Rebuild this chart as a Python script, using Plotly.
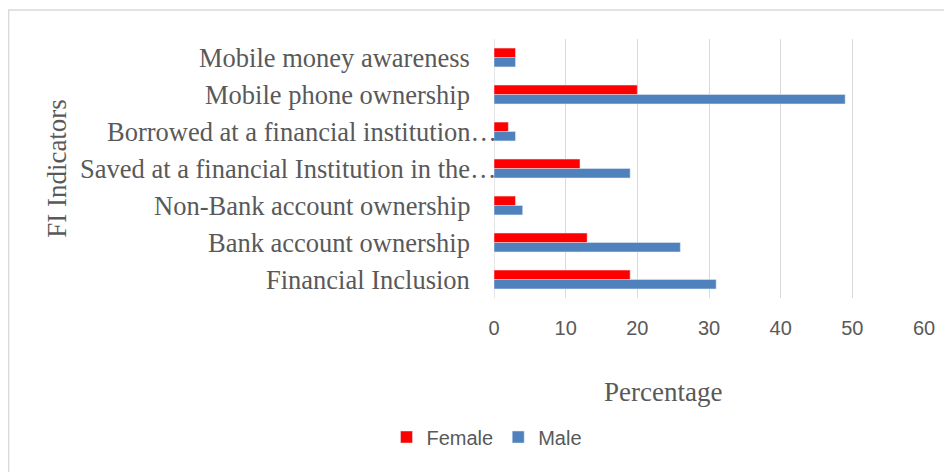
import plotly.graph_objects as go

categories = [
    "Financial Inclusion",
    "Bank account ownership",
    "Non-Bank account ownership",
    "Saved at a financial Institution in the…",
    "Borrowed at a financial institution…",
    "Mobile phone ownership",
    "Mobile money awareness",
]
female = [19, 13, 3, 12, 2, 20, 3]
male = [31, 26, 4, 19, 3, 49, 3]
x_ticks = [0, 10, 20, 30, 40, 50, 60]

# page offset (browser body margin)
OFF = 8
W, H = 952 - OFF, 472 - OFF
L, T = 494 - OFF, 39 - OFF
pw, ph = 430, 259
R = W - L - pw
B = H - T - ph

def px_x(x):
    return (x - OFF - L) / pw

def px_y(y):
    return (T + ph - (y - OFF)) / ph

fig = go.Figure()
fig.add_trace(go.Bar(y=categories, x=male, name="Male", orientation="h",
                     marker=dict(color="#4F81BD"), legendrank=2))
fig.add_trace(go.Bar(y=categories, x=female, name="Female", orientation="h",
                     marker=dict(color="#FF0000"), legendrank=1))

serif = dict(family="Liberation Serif", size=26.5, color="#595959")

fig.update_layout(
    width=W, height=H,
    margin=dict(l=L, r=R, t=T, b=B),
    paper_bgcolor="white", plot_bgcolor="white",
    barmode="group", bargap=0.49, bargroupgap=0,
    showlegend=True,
    legend=dict(orientation="h", x=px_x(487), xanchor="center",
                y=px_y(437), yanchor="middle",
                font=dict(family="Liberation Sans", size=20, color="#595959"),
                itemwidth=30),
    xaxis=dict(range=[0, 60], tickvals=x_ticks, showgrid=True,
               gridcolor="#d9d9d9", gridwidth=1.3, zeroline=False,
               showline=False, ticks="", ticklabelstandoff=16,
               automargin=False,
               tickfont=dict(family="Liberation Sans", size=20, color="#595959")),
    yaxis=dict(type="category", categoryorder="array", categoryarray=categories,
               showgrid=False, zeroline=False, showline=False, ticks="",
               showticklabels=False, automargin=False,
               title=dict(text="FI Indicators", standoff=418,
                          font=dict(family="Liberation Serif", size=27, color="#595959"))),
)

# category labels (truncated ones sit further right, as in the original)
for c in categories:
    right = 499 if c.endswith("…") else 472
    fig.add_annotation(text=c, xref="paper", yref="y", x=px_x(right), y=c,
                       xanchor="right", yanchor="middle", showarrow=False,
                       font=serif)

# x-axis title
fig.add_annotation(text="Percentage", xref="paper", yref="paper",
                   x=px_x(663), y=px_y(392), xanchor="center", yanchor="middle",
                   showarrow=False,
                   font=dict(family="Liberation Serif", size=27, color="#595959"))

# vertical grid at zero
fig.add_shape(type="line", xref="x", yref="paper", x0=0, x1=0, y0=0, y1=1,
              line=dict(color="#d9d9d9", width=1.3), layer="below")

# chart border
fig.add_shape(type="rect", xref="paper", yref="paper",
              x0=px_x(OFF + 0.7), x1=px_x(975), y0=px_y(10), y1=px_y(495),
              line=dict(color="#d9d9d9", width=1.3), fillcolor="rgba(0,0,0,0)")

fig.write_html("out.html")
